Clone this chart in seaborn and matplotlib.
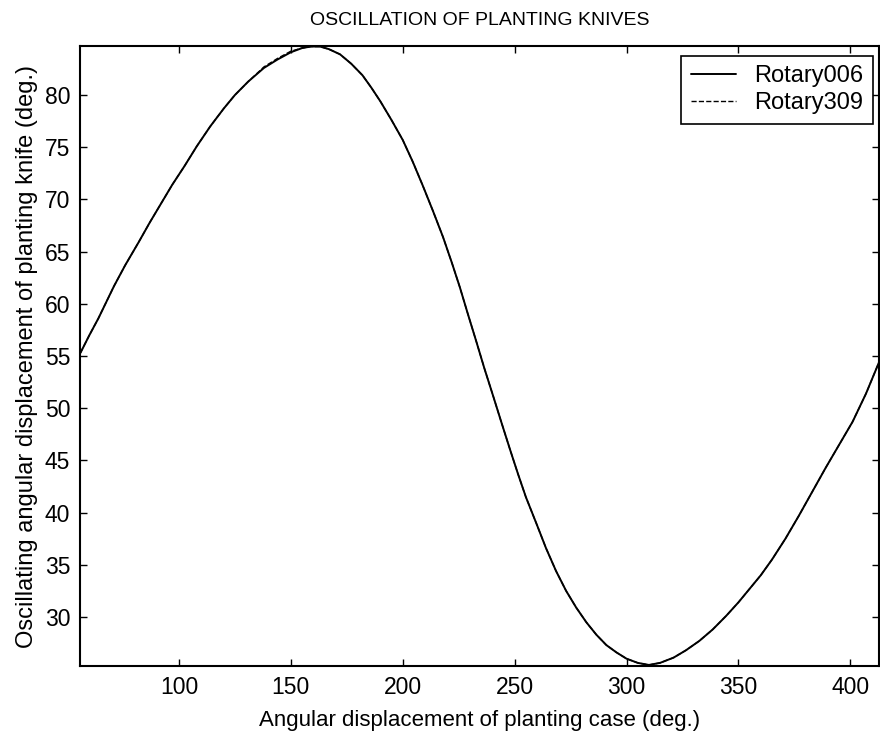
import pandas as pd
import matplotlib
matplotlib.use("Agg")
import matplotlib.pyplot as plt
import seaborn as sns

# values
case_angle = [56, 60, 64, 71, 76, 82, 87, 92, 97, 102.5, 108, 114, 120, 125,
              131, 138, 144, 150, 155, 159, 163, 167, 172, 177, 182, 186, 190,
              195, 200, 204.5, 209, 213.5, 218, 222, 225.5, 229, 233, 236.5,
              240.5, 244, 248, 251.5, 255, 260, 264, 268.5, 273, 277.5, 282,
              286.5, 291, 295.5, 300, 305, 310, 315, 321, 326.5, 332.5, 338.5,
              344.5, 350, 355, 360, 365, 371, 377, 383, 389, 395, 401, 407, 413]
rotary006 = [55.3, 57.0, 58.6, 61.7, 63.7, 65.9, 67.8, 69.6, 71.4, 73.2, 75.1,
             77.0, 78.7, 80.0, 81.3, 82.6, 83.4, 84.1, 84.5, 84.65, 84.65, 84.4,
             83.9, 83.0, 81.9, 80.7, 79.4, 77.6, 75.7, 73.6, 71.3, 68.9, 66.4,
             63.9, 61.6, 59.1, 56.3, 53.8, 51.1, 48.7, 46.0, 43.7, 41.5, 38.8,
             36.6, 34.4, 32.5, 30.9, 29.5, 28.3, 27.3, 26.6, 26.0, 25.6, 25.4,
             25.6, 26.1, 26.8, 27.7, 28.8, 30.1, 31.4, 32.7, 34.0, 35.5, 37.5,
             39.7, 42.0, 44.3, 46.5, 48.7, 51.4, 54.5]
rotary309 = [55.3, 57.0, 58.6, 61.7, 63.7, 65.9, 67.8, 69.6, 71.4, 73.2, 75.1,
             77.0, 78.7, 80.0, 81.3, 82.7, 83.5, 84.2, 84.5, 84.65, 84.65, 84.4,
             83.9, 83.0, 81.9, 80.7, 79.4, 77.6, 75.7, 73.6, 71.3, 68.9, 66.4,
             63.9, 61.6, 59.1, 56.3, 53.8, 51.1, 48.7, 46.0, 43.7, 41.5, 38.8,
             36.6, 34.4, 32.5, 30.9, 29.5, 28.3, 27.3, 26.6, 26.0, 25.6, 25.4,
             25.6, 26.1, 26.8, 27.7, 28.8, 30.1, 31.4, 32.7, 34.0, 35.5, 37.5,
             39.7, 42.0, 44.3, 46.5, 48.7, 51.4, 54.5]
xticks = [100, 150, 200, 250, 300, 350, 400]
yticks = [30, 35, 40, 45, 50, 55, 60, 65, 70, 75, 80]

df = pd.DataFrame({"x": case_angle, "r006": rotary006, "r309": rotary309})

sns.set_style("ticks")
plt.rcParams["font.family"] = ["Liberation Sans", "DejaVu Sans"]
plt.rcParams["text.color"] = "black"
plt.rcParams["axes.labelcolor"] = "black"
plt.rcParams["xtick.color"] = "black"
plt.rcParams["ytick.color"] = "black"

fig = plt.figure(figsize=(8.8, 7.35), dpi=100)
ax = fig.add_axes([80 / 880, 1 - 666 / 735, 799 / 880, 620 / 735])

sns.lineplot(data=df, x="x", y="r006", ax=ax, color="black", linewidth=1.4,
             label="Rotary006")
sns.lineplot(data=df, x="x", y="r309", ax=ax, color="black", linewidth=1.0,
             linestyle="--", label="Rotary309")

ax.set_xlim(55.8, 412.8)
ax.set_ylim(25.3, 84.7)
ax.set_xticks(xticks)
ax.set_yticks(yticks)
ax.tick_params(direction="in", top=True, right=True, length=5, width=1,
               labelsize=16.5, pad=7)
for sp in ax.spines.values():
    sp.set_linewidth(1.5)
    sp.set_color("black")

ax.set_title("OSCILLATION OF PLANTING KNIVES", fontsize=14, pad=15)
ax.set_xlabel("Angular displacement of planting case (deg.)", fontsize=16,
              labelpad=8)
ax.set_ylabel("Oscillating angular displacement of planting knife (deg.)",
              fontsize=17, labelpad=5)

leg = ax.legend(loc="upper right", bbox_to_anchor=(0.9925, 0.984),
                borderaxespad=0, fancybox=False, framealpha=1,
                edgecolor="black", fontsize=17, handlelength=1.9,
                borderpad=0.4, labelspacing=0.2, handletextpad=0.8)
leg.get_frame().set_linewidth(1.2)

fig.savefig("out.png", dpi=100)
